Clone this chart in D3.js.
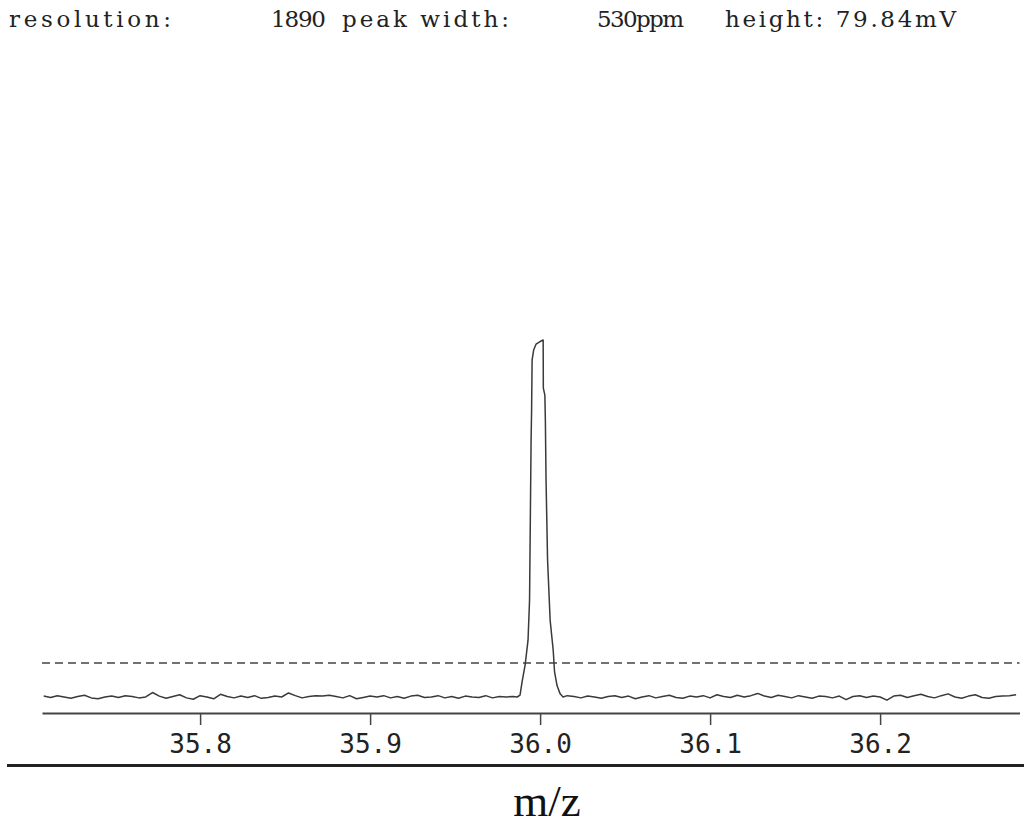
<!DOCTYPE html>
<html>
<head>
<meta charset="utf-8">
<script src="https://cdn.jsdelivr.net/npm/d3@7"></script>
<style>
  body { margin: 0; background: #fff; }
  svg { display: block; }
</style>
</head>
<body>
<svg width="1024" height="826"></svg>
<script>
// header texts (instrument read-out)
var headerTexts = ["resolution:", "1890", "peak width:", "530ppm", "height: 79.84mV"];
var tickVals = [35.8, 35.9, 36.0, 36.1, 36.2];
var threshold = 7.6; // mV, dashed line

// baseline left of the peak, m/z
var leftMz = [35.708,35.712,35.716,35.720,35.724,35.728,35.732,35.736,35.740,35.744,
  35.748,35.752,35.756,35.760,35.764,35.768,35.772,35.776,35.780,35.784,
  35.788,35.792,35.796,35.800,35.804,35.808,35.812,35.816,35.820,35.824,
  35.828,35.832,35.836,35.840,35.844,35.848,35.852,35.856,35.860,35.864,
  35.868,35.872,35.876,35.880,35.884,35.888,35.892,35.896,35.900,35.904,
  35.908,35.912,35.916,35.920,35.924,35.928,35.932,35.936,35.940,35.944,
  35.948,35.952,35.956,35.960,35.964,35.968,35.972,35.976,35.980,35.984];
var leftMv = [0.2,-0.1,0.3,0.0,-0.3,0.1,0.4,-0.2,-0.4,0.0,
  0.2,-0.1,0.3,0.1,-0.2,0.0,1.0,0.2,-0.3,0.1,
  0.5,-0.2,-0.5,0.3,0.0,-0.4,0.6,0.1,-0.2,0.2,
  -0.1,0.3,-0.3,-0.1,0.2,0.0,0.9,0.3,-0.2,0.1,
  0.3,0.2,0.4,0.1,-0.2,0.3,-0.4,-0.1,0.2,0.0,
  0.3,-0.2,0.1,-0.3,0.2,0.4,-0.1,0.0,0.3,-0.2,
  0.1,-0.3,0.2,0.0,-0.1,0.3,-0.2,0.1,0.0,0.1];

// the peak itself
var peakMz = [35.9865,35.9882,35.9894,35.9912,35.9929,35.9938,35.9947,35.9950,35.9953,35.9962,35.9976,
  36.0000,36.0018,36.0019,36.0028,36.0031,36.0035,36.0044,36.0059,36.0077,36.0085,36.0100,36.0118,36.0135];
var peakMv = [0.0,0.4,3.4,7.2,12.7,21.7,57.5,64.2,75.4,77.6,78.9,
  79.5,79.84,69.1,67.5,61.9,48.5,30.6,17.2,10.5,5.6,2.5,0.7,0.0];

// baseline right of the peak
var rightMz = [36.016,36.020,36.024,36.028,36.032,36.036,36.040,36.044,36.048,36.052,
  36.056,36.060,36.064,36.068,36.072,36.076,36.080,36.084,36.088,36.092,
  36.096,36.100,36.104,36.108,36.112,36.116,36.120,36.124,36.128,36.132,
  36.136,36.140,36.144,36.148,36.152,36.156,36.160,36.164,36.168,36.172,
  36.176,36.180,36.184,36.188,36.192,36.196,36.200,36.204,36.208,36.212,
  36.216,36.220,36.224,36.228,36.232,36.236,36.240,36.244,36.248,36.252,
  36.256,36.260,36.264,36.268,36.272,36.276,36.280];
var rightMv = [0.3,0.1,-0.2,0.2,0.0,-0.3,0.1,0.3,-0.1,0.2,
  -0.4,0.0,0.3,-0.2,0.1,0.4,-0.1,-0.3,0.2,0.0,
  0.3,-0.2,0.5,0.1,-0.1,0.4,0.0,0.3,0.8,0.2,
  -0.1,0.4,0.1,-0.2,0.3,0.0,-0.3,0.2,0.1,-0.2,
  0.2,-0.6,0.1,0.3,-0.1,0.2,0.0,-0.7,0.2,0.4,
  -0.1,0.3,0.6,0.1,-0.2,0.3,0.7,0.0,-0.3,0.2,
  0.5,-0.1,-0.3,0.1,0.2,0.3,0.5];

var mz = leftMz.concat(peakMz, rightMz);
var mv = leftMv.concat(peakMv, rightMv);
var pts = mz.map(function(d, i){ return [d, mv[i]]; });

var svg = d3.select("svg");

svg.append("rect").attr("width", 1024).attr("height", 826).attr("fill", "#fff");

var x = d3.scaleLinear().domain([35.707, 36.282]).range([42, 1019.5]);
var y = d3.scaleLinear().domain([-3.58, 80]).range([713, 339.3]);

// header
var hx = [9, 271, 342, 597, 725];
var hw = [162, 55, 167, 87, 231];
svg.selectAll(".hdr").data(headerTexts).enter()
  .append("text")
  .attr("class", "hdr")
  .attr("x", function(d, i){ return hx[i]; })
  .attr("y", 27)
  .attr("font-family", "'DejaVu Serif', serif")
  .attr("font-size", "23px")
  .attr("fill", "#222")
  .attr("textLength", function(d, i){ return hw[i]; })
  .attr("lengthAdjust", "spacing")
  .text(function(d){ return d; });

// threshold
svg.append("line")
  .attr("x1", x(35.707)).attr("x2", x(36.282))
  .attr("y1", y(threshold)).attr("y2", y(threshold))
  .attr("stroke", "#444").attr("stroke-width", 1.5)
  .attr("stroke-dasharray", "8,5");

// signal
svg.append("path")
  .datum(pts)
  .attr("fill", "none")
  .attr("stroke", "#3a3a3a")
  .attr("stroke-width", 1.5)
  .attr("stroke-linejoin", "round")
  .attr("d", d3.line().x(function(d){ return x(d[0]); }).y(function(d){ return y(d[1]); }));

// axis
var ax = svg.append("g")
  .attr("transform", "translate(0," + y(-3.58) + ")")
  .call(d3.axisBottom(x).tickValues(tickVals).tickFormat(d3.format(".1f")).tickSize(12).tickSizeOuter(0).tickPadding(10));
ax.select(".domain").attr("stroke", "#444").attr("stroke-width", 2);
ax.selectAll(".tick line").attr("stroke", "#444").attr("stroke-width", 1.5);
ax.selectAll(".tick text")
  .attr("font-family", "'DejaVu Sans Mono', monospace")
  .attr("font-size", "26px")
  .attr("fill", "#222");

// frame line under the chart
svg.append("line")
  .attr("x1", 7).attr("x2", 1024)
  .attr("y1", 765.5).attr("y2", 765.5)
  .attr("stroke", "#222").attr("stroke-width", 3);

// axis title
svg.append("text")
  .attr("x", 547).attr("y", 816)
  .attr("text-anchor", "middle")
  .attr("font-family", "'Liberation Serif', 'Times New Roman', serif")
  .attr("font-size", "45px")
  .attr("fill", "#111")
  .text("m/z");
</script>
</body>
</html>
